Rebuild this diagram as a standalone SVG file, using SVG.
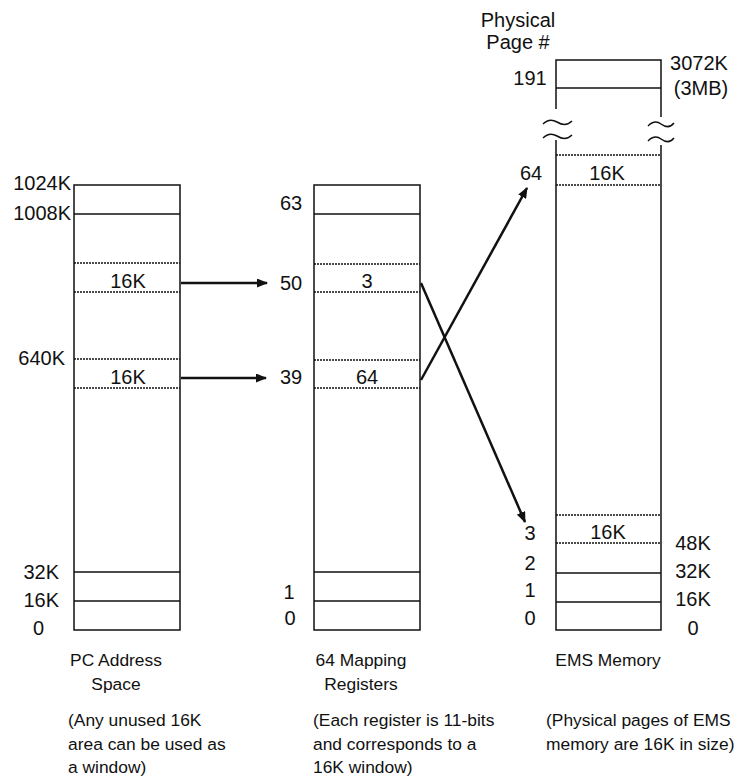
<svg xmlns="http://www.w3.org/2000/svg" width="738" height="783" viewBox="0 0 738 783">
<style>
.box{fill:none;stroke:#111;stroke-width:1.5}
.sol{stroke:#111;stroke-width:1.5;fill:none}
.dot{stroke:#111;stroke-width:1.5;stroke-dasharray:2 1;fill:none}
.t{font-family:"Liberation Sans",Arial,Helvetica,sans-serif;font-size:20px;fill:#111}
.c{font-family:"Liberation Sans",Arial,Helvetica,sans-serif;font-size:17.4px;fill:#111}
.m{text-anchor:middle}
.e{text-anchor:end}
.arr{stroke:#111;stroke-width:2.5;fill:none;marker-end:url(#ah)}
</style>
<defs>
<marker id="ah" viewBox="0 0 11 9" refX="10" refY="4.5" markerWidth="11" markerHeight="9" markerUnits="userSpaceOnUse" orient="auto">
<path d="M0,0 L11,4.5 L0,9 z" fill="#111"/>
</marker>
</defs>
<rect width="738" height="783" fill="#fff"/>

<g id="pc-address-space">
<rect class="box" x="74" y="185" width="106" height="445"/>
<line class="sol" x1="74" y1="214" x2="180" y2="214"/>
<line class="dot" x1="74" y1="263" x2="180" y2="263"/>
<line class="dot" x1="74" y1="292" x2="180" y2="292"/>
<line class="dot" x1="74" y1="359" x2="180" y2="359"/>
<line class="dot" x1="74" y1="388" x2="180" y2="388"/>
<line class="sol" x1="74" y1="572" x2="180" y2="572"/>
<line class="sol" x1="74" y1="601" x2="180" y2="601"/>
<text class="t e" x="71" y="190">1024K</text>
<text class="t e" x="71" y="220">1008K</text>
<text class="t e" x="65" y="365">640K</text>
<text class="t e" x="59" y="579">32K</text>
<text class="t e" x="59" y="607">16K</text>
<text class="t e" x="44" y="635">0</text>
<text class="t m" x="128" y="288">16K</text>
<text class="t m" x="128" y="384">16K</text>
<text class="c m" x="116" y="666">PC Address</text>
<text class="c m" x="116" y="690">Space</text>
<text class="c" x="68" y="726">(Any unused 16K</text>
<text class="c" x="68" y="750">area can be used as</text>
<text class="c" x="68" y="773">a window)</text>
</g>

<g id="mapping-registers">
<rect class="box" x="314" y="185" width="106" height="445"/>
<line class="sol" x1="314" y1="214" x2="420" y2="214"/>
<line class="dot" x1="314" y1="264" x2="420" y2="264"/>
<line class="dot" x1="314" y1="292" x2="420" y2="292"/>
<line class="dot" x1="314" y1="360" x2="420" y2="360"/>
<line class="dot" x1="314" y1="388" x2="420" y2="388"/>
<line class="sol" x1="314" y1="572" x2="420" y2="572"/>
<line class="sol" x1="314" y1="601" x2="420" y2="601"/>
<text class="t m" x="291" y="210">63</text>
<text class="t m" x="291" y="290">50</text>
<text class="t m" x="291" y="384">39</text>
<text class="t m" x="289" y="599">1</text>
<text class="t m" x="290" y="625">0</text>
<text class="t m" x="367" y="288">3</text>
<text class="t m" x="367" y="384">64</text>
<text class="c m" x="361" y="666">64 Mapping</text>
<text class="c m" x="361" y="690">Registers</text>
<text class="c" x="313" y="726">(Each register is 11-bits</text>
<text class="c" x="313" y="750">and corresponds to a</text>
<text class="c" x="313" y="773">16K window)</text>
</g>

<g id="ems-memory">
<path class="sol" d="M556,109 L556,60 L661,60 L661,117"/>
<path class="sol" d="M556,140 L556,630 L661,630 L661,145"/>
<path class="sol" d="M543,124 c4,-4 9,-5 14,-2 s10,4 15,-1"/>
<path class="sol" d="M543,138 c4,-4 9,-5 14,-2 s10,4 15,-1"/>
<path class="sol" d="M648,126 c4,-4 9,-5 13,-2 s9,4 13,-1"/>
<path class="sol" d="M648,141 c4,-4 9,-5 13,-2 s9,4 13,-1"/>
<line class="sol" x1="556" y1="88" x2="661" y2="88"/>
<line class="dot" x1="556" y1="155" x2="661" y2="155"/>
<line class="dot" x1="556" y1="185" x2="661" y2="185"/>
<line class="dot" x1="556" y1="515" x2="661" y2="515"/>
<line class="dot" x1="556" y1="543" x2="661" y2="543"/>
<line class="sol" x1="556" y1="573" x2="661" y2="573"/>
<line class="sol" x1="556" y1="602" x2="661" y2="602"/>
<text class="t m" x="518" y="27">Physical</text>
<text class="t m" x="518" y="49">Page #</text>
<text class="t m" x="530" y="85">191</text>
<text class="t m" x="531" y="180">64</text>
<text class="t m" x="530" y="540">3</text>
<text class="t m" x="530" y="570">2</text>
<text class="t m" x="530" y="597">1</text>
<text class="t m" x="530" y="625">0</text>
<text class="t m" x="699" y="70">3072K</text>
<text class="t m" x="701" y="95">(3MB)</text>
<text class="t m" x="693" y="550">48K</text>
<text class="t m" x="693" y="578">32K</text>
<text class="t m" x="693" y="606">16K</text>
<text class="t m" x="693" y="635">0</text>
<text class="t m" x="607" y="180">16K</text>
<text class="t m" x="608" y="539">16K</text>
<text class="c m" x="608" y="666">EMS Memory</text>
<text class="c" x="546" y="726">(Physical pages of EMS</text>
<text class="c" x="546" y="750">memory are 16K in size)</text>
</g>

<g id="connectors">
<line class="arr" x1="181" y1="283" x2="267" y2="283"/>
<line class="arr" x1="181" y1="378" x2="266" y2="378"/>
<line class="arr" x1="421" y1="283" x2="525" y2="522"/>
<line class="arr" x1="421" y1="380" x2="527" y2="188"/>
</g>
</svg>
